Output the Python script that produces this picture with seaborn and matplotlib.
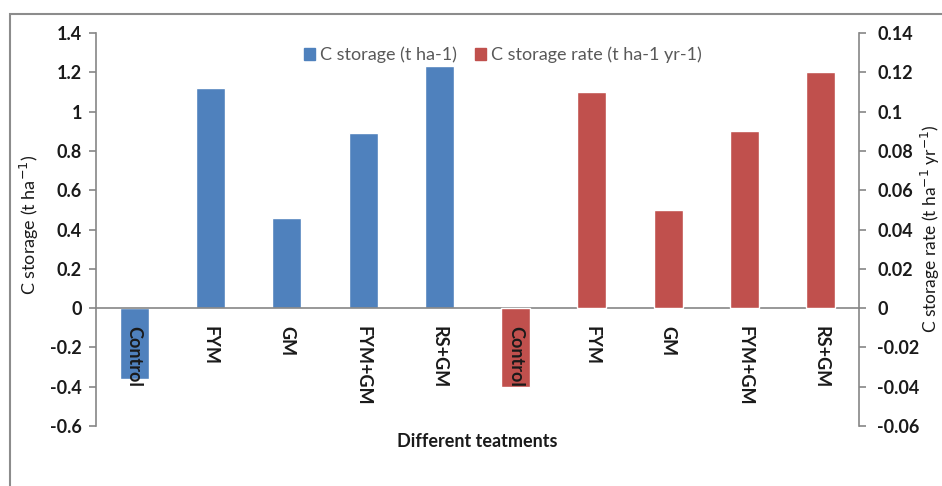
import matplotlib
matplotlib.use("Agg")
import matplotlib.pyplot as plt
import seaborn as sns
import pandas as pd
from matplotlib.patches import Rectangle, Patch

# Data
treatments = ["Control", "FYM", "GM", "FYM+GM", "RS+GM"]
c_storage = [-0.36, 1.12, 0.46, 0.89, 1.23]          # t ha-1
c_storage_rate = [-0.04, 0.11, 0.05, 0.09, 0.12]     # t ha-1 yr-1

left_ticks = [-0.6, -0.4, -0.2, 0, 0.2, 0.4, 0.6, 0.8, 1, 1.2, 1.4]
right_ticks = [-0.06, -0.04, -0.02, 0, 0.02, 0.04, 0.06, 0.08, 0.1, 0.12, 0.14]

BLUE = "#4F81BD"
RED = "#C0504D"
SPINE = "#868686"
TXT = "#1a1a1a"

sns.set_theme(style="white")
plt.rcParams["font.family"] = ["Lato", "DejaVu Sans"]

slots = [f"s{i}" for i in range(2 * len(treatments))]
df_storage = pd.DataFrame({"slot": slots[:5], "value": c_storage})
df_rate = pd.DataFrame({"slot": slots[5:], "value": c_storage_rate})
labels = treatments + treatments

fig = plt.figure(figsize=(9.42, 4.86), dpi=100)
ax = fig.add_axes([96 / 942, 1 - 426 / 486, (859 - 96) / 942, (426 - 33) / 486])

sns.barplot(data=df_storage, x="slot", y="value", order=slots, color=BLUE,
            width=0.38, saturation=1, ax=ax)
ax2 = ax.twinx()
sns.barplot(data=df_rate, x="slot", y="value", order=slots, color=RED,
            width=0.38, saturation=1, ax=ax2)

ax.set_ylim(-0.6, 1.4)
ax2.set_ylim(-0.06, 0.14)
ax.set_xlim(-0.5, 9.5)

ax.set_yticks(left_ticks)
ax.set_yticklabels([f"{v:g}" for v in left_ticks])
ax2.set_yticks(right_ticks)
ax2.set_yticklabels([f"{v:g}" for v in right_ticks])

for a in (ax, ax2):
    a.set_xlabel("")
    a.set_ylabel("")
    for s in a.spines.values():
        s.set_color(SPINE)
        s.set_linewidth(1.2)
    a.spines["top"].set_visible(False)
    a.tick_params(axis="y", direction="out", length=5, width=1.2, color=SPINE,
                  labelsize=13, labelcolor=TXT)
    a.grid(False)
ax.tick_params(axis="y", pad=5)
ax2.tick_params(axis="y", pad=8)

ax.spines["right"].set_visible(False)
ax2.spines["left"].set_visible(False)
ax2.spines["bottom"].set_visible(False)
for t in ax.get_yticklabels() + ax2.get_yticklabels():
    t.set_fontweight("bold")

# category axis drawn along the zero line
ax.spines["bottom"].set_position(("data", 0))
ax.set_xticks([i + 0.5 for i in range(9)])
ax.set_xticklabels([])
ax.tick_params(axis="x", direction="out", length=5, width=1.2, color=SPINE)
ax2.tick_params(axis="x", length=0)

ax2.set_zorder(ax.get_zorder() + 1)
ax2.patch.set_visible(False)

# category names sit on top of both bar layers
for i, lab in enumerate(labels):
    ax2.annotate(lab, xy=(i, 0), xytext=(0, -13), textcoords="offset points",
                 rotation=-90, ha="center", va="top", fontsize=13,
                 fontweight="bold", color=TXT, zorder=5)

fig.text(29 / 942, 1 - 225 / 486, "C storage (t ha$^{-1}$)", rotation=90,
         ha="center", va="center", fontsize=13, color=TXT)
fig.text(930 / 942, 1 - 229 / 486, "C storage rate (t ha$^{-1}$ yr$^{-1}$)",
         rotation=90, ha="center", va="center", fontsize=12.5, color=TXT)
fig.text(477 / 942, 1 - 441 / 486, "Different teatments", ha="center",
         va="center", fontsize=13, fontweight="bold", color=TXT)

handles = [Patch(color=BLUE, label="C storage (t ha-1)"),
           Patch(color=RED, label="C storage rate (t ha-1 yr-1)")]
leg = fig.legend(handles=handles, loc="center", ncol=2,
                 bbox_to_anchor=(503 / 942, 1 - 55 / 486), frameon=False,
                 fontsize=13, handlelength=0.6, handleheight=0.6,
                 handletextpad=0.3, columnspacing=1.0)
for t in leg.get_texts():
    t.set_color("#595959")

# outer chart frame
fig.patches.append(Rectangle((10 / 942, -0.2), 1.2, 0.2 + 1 - 14 / 486,
                             transform=fig.transFigure, fill=False,
                             edgecolor="#8c8c8c", linewidth=1.5))

fig.savefig("out.png", dpi=100)
